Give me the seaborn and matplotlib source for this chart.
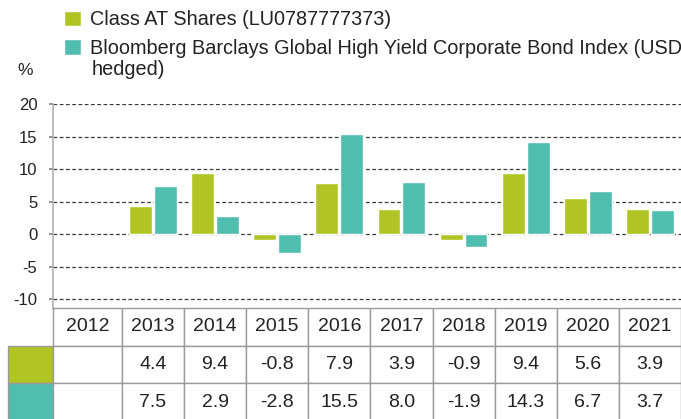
import numpy as np
import pandas as pd
import matplotlib
matplotlib.use("Agg")
import matplotlib.pyplot as plt
import seaborn as sns

# chart data
years = ["2012", "2013", "2014", "2015", "2016", "2017", "2018", "2019", "2020", "2021"]
fund = [np.nan, 4.4, 9.4, -0.8, 7.9, 3.9, -0.9, 9.4, 5.6, 3.9]
bench = [np.nan, 7.5, 2.9, -2.8, 15.5, 8.0, -1.9, 14.3, 6.7, 3.7]
series_names = ["Class AT Shares (LU0787777373)",
                "Bloomberg Barclays Global High Yield Corporate Bond Index (USD"]
wrap_tail = "hedged)"
colors = ["#b0c423", "#50beaf"]
y_ticks = [-10, -5, 0, 5, 10, 15, 20]

df = pd.DataFrame({
    "year": years * 2,
    "value": fund + bench,
    "series": [series_names[0]] * len(years) + [series_names[1]] * len(years),
})

sns.set_theme(style="white")
plt.rcParams["font.family"] = ["Liberation Sans", "DejaVu Sans"]

W, H = 681, 419
fig = plt.figure(figsize=(W / 100, H / 100), dpi=100)

# bar chart
ax = fig.add_axes([52.7 / W, 110 / H, 1 - 52.7 / W, 204.5 / H])
sns.barplot(data=df, x="year", y="value", hue="series", order=years,
            hue_order=series_names, palette=colors, saturation=1,
            width=0.8, gap=0.08, ax=ax)
handles, labels = ax.get_legend_handles_labels()
ax.get_legend().remove()

ax.set_xlim(-0.613, 9.5)
ax.set_ylim(-11.5, 20)
ax.set_yticks(y_ticks)
ax.set_yticklabels([str(t) for t in y_ticks], fontsize=12, color="#222222")
ax.set_xticks([])
ax.set_xlabel("")
ax.set_ylabel("")
ax.yaxis.grid(True, linestyle=(0, (3, 2)), color="#3a3a3a", linewidth=0.9)
ax.set_axisbelow(True)
for side in ["top", "right", "bottom"]:
    ax.spines[side].set_visible(False)
ax.spines["left"].set_color("#b0b0b0")
ax.spines["left"].set_linewidth(1.2)
ax.tick_params(axis="y", length=3, color="#888888", pad=8, left=True)

# legend
leg = fig.legend(handles, labels, loc="upper left", bbox_to_anchor=(64 / W, 1 - 10 / H),
                 frameon=False, fontsize=14.3, handlelength=0.84, handleheight=0.8,
                 handletextpad=0.45, borderaxespad=0, borderpad=0, labelspacing=0.5)
for t in leg.get_texts():
    t.set_color("#222222")
fig.text(92 / W, 1 - 75 / H, wrap_tail, fontsize=14.3, color="#222222", va="baseline")
fig.text(17 / W, 1 - 75 / H, "%", fontsize=12.5, color="#222222", va="baseline")

# data table below
tax = fig.add_axes([8 / W, -2 / H, 673 / W, 113 / H])
tax.axis("off")
fmt = lambda v: "" if np.isnan(v) else f"{v:.1f}"
cell_text = [[""] + years,
             [""] + [fmt(v) for v in fund],
             [""] + [fmt(v) for v in bench]]
cell_colors = [["white"] * 11,
               [colors[0]] + ["white"] * 10,
               [colors[1]] + ["white"] * 10]
col_w = [44.7, 69] + [62] * 9
table = tax.table(cellText=cell_text, cellColours=cell_colors, colWidths=col_w,
                  cellLoc="center", bbox=[0, 0, 1, 1])
table.auto_set_font_size(False)
table.set_fontsize(14)
for (r, c), cell in table.get_celld().items():
    cell.set_edgecolor("#9a9a9a")
    cell.set_linewidth(1.0)
    cell.get_text().set_color("#222222")
table[0, 0].visible_edges = ""

fig.savefig("out.png", dpi=100)
